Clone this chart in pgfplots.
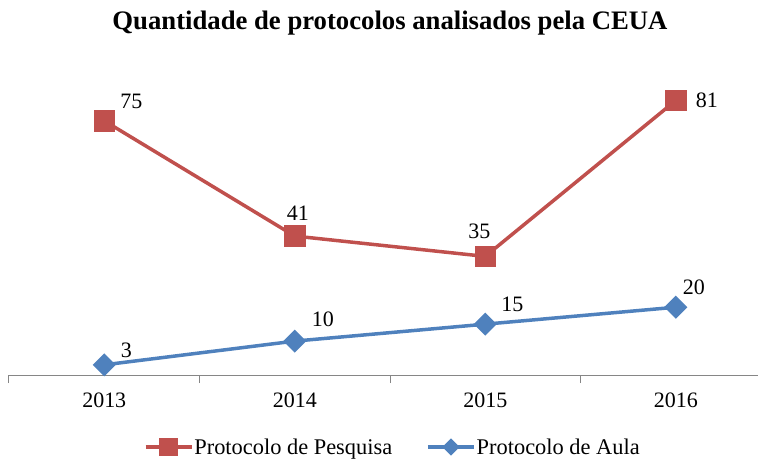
\documentclass[border=0pt]{standalone}
\usepackage{fontspec}
\setmainfont{Liberation Serif}
\usepackage{pgfplots}
\pgfplotsset{compat=1.18}
\usepackage{pgfplotstable}
\definecolor{cred}{HTML}{C0504D}
\definecolor{cblue}{HTML}{4F81BD}
\definecolor{axgray}{HTML}{868686}
\pgfplotstableread{
x y dx dy
1 75 27 19
2 41 3 23
3 35 -6 25
4 81 31 0
}\pesquisa
\pgfplotstableread{
x y dx dy
1 3 22 15
2 10 28 22
3 15 27 20
4 20 18 20
}\aula
\begin{document}
\begin{tikzpicture}
\path[use as bounding box] (0,0) rectangle (758pt,459pt);
\begin{axis}[
  at={(9pt,84pt)}, anchor=south west,
  scale only axis, width=762pt, height=305pt,
  xmin=0.5, xmax=4.5, ymin=0, ymax=90,
  clip=false,
  axis y line=none, axis x line*=bottom,
  x axis line style={axgray, line width=1pt},
  xtick={1,2,3,4}, xticklabels={2013,2014,2015,2016},
  major tick length=0pt,
  minor xtick={0.5,1.5,2.5,3.5,4.5}, minor tick length=8pt,
  tick align=outside,
  minor tick style={axgray, line width=1pt},
  major tick style={draw=none},
  xticklabel style={font=\fontsize{22}{26}\selectfont, yshift=-14pt},
  /pgf/number format/assume math mode=true,
  title={Quantidade de protocolos analisados pela CEUA},
  title style={font=\bfseries\fontsize{26.7}{30}\selectfont, at={(0.5,1.112)}, anchor=base},
  legend style={at={(0.503,-0.236)}, anchor=center, draw=none, fill=none,
    legend columns=2, font=\fontsize{22.4}{26}\selectfont,
    nodes={inner xsep=1pt},
    /tikz/every even column/.append style={column sep=33pt}},
  legend image code/.code={\draw[mark repeat=2,mark phase=2] plot coordinates {(0pt,0pt)(23pt,0pt)(46pt,0pt)};},
  nodes near coords,
  point meta=y,
  visualization depends on={\thisrow{dx}\as\labdx},
  visualization depends on={\thisrow{dy}\as\labdy},
  every node near coord/.append style={anchor=center, xshift=\labdx pt, yshift=\labdy pt, font=\fontsize{22}{26}\selectfont, text=black},
]
\addplot[cred, line width=3.5pt, mark=square*, mark size=9pt, mark options={draw=none, fill=cred},
  legend image post style={mark size=7.5pt}] table[x=x,y=y] {\pesquisa};
\addlegendentry{Protocolo de Pesquisa}
\addplot[cblue, line width=3.5pt, mark=square*, mark size=6.4pt, mark options={draw=none, fill=cblue, rotate=45},
  legend image post style={mark size=4.3pt}] table[x=x,y=y] {\aula};
\addlegendentry{Protocolo de Aula}
\end{axis}
\end{tikzpicture}
\end{document}
